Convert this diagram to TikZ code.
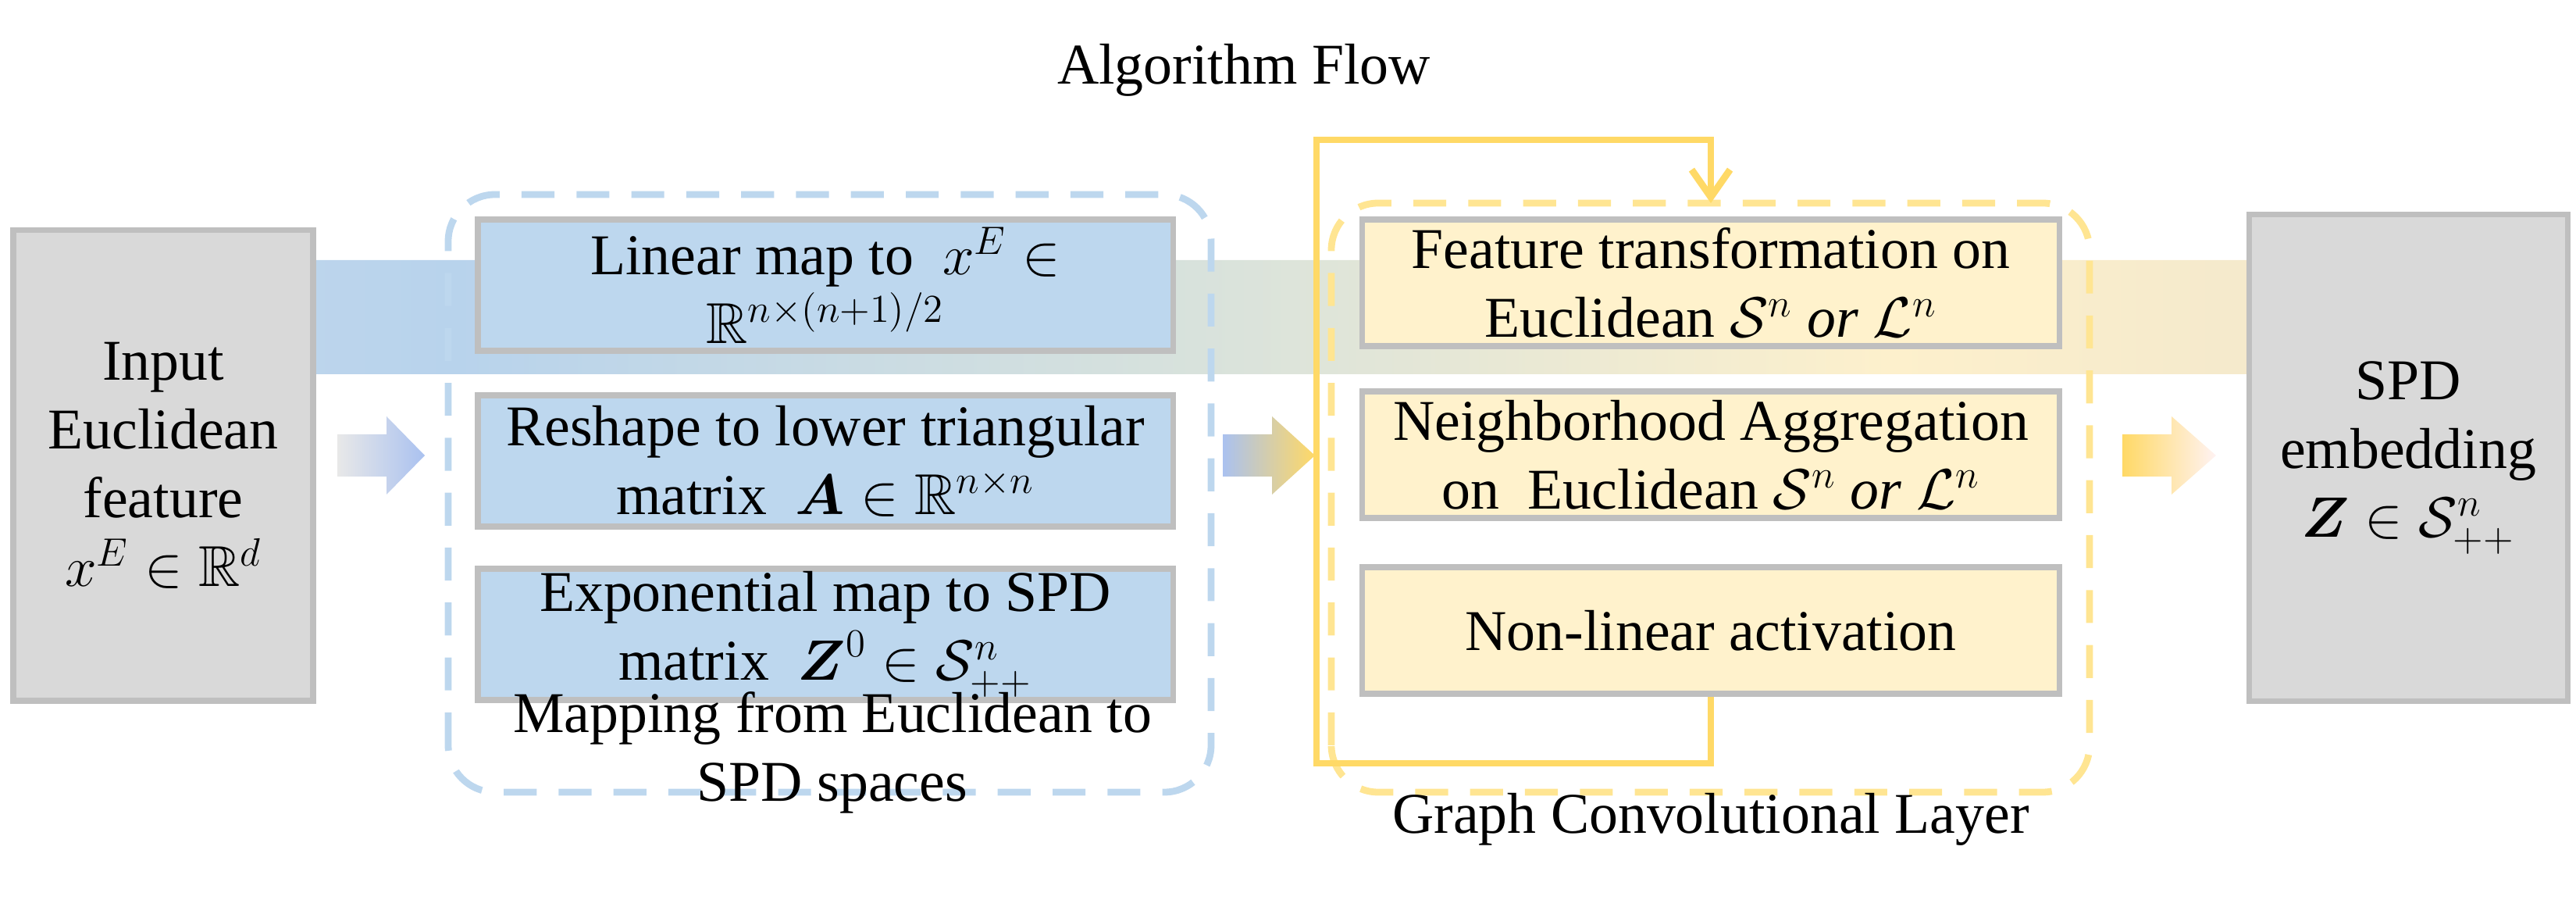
\documentclass[tikz,border=0pt]{standalone}
\usepackage{amsmath,amssymb}
\usepackage{fontspec}
\setmainfont{Liberation Serif}
\usetikzlibrary{arrows.meta}
\definecolor{boxblue}{HTML}{BDD7EE}
\definecolor{boxyellow}{HTML}{FFF2CC}
\definecolor{boxgray}{HTML}{D9D9D9}
\definecolor{edgegray}{HTML}{BFBFBF}
\definecolor{dashblue}{HTML}{BDD7EE}
\definecolor{dashyellow}{HTML}{FFE592}
\definecolor{loopyellow}{HTML}{FFD966}
\definecolor{flowa}{HTML}{E6E6E8}
\definecolor{flowb}{HTML}{B8D3EC}
\definecolor{flowc}{HTML}{D8E2DC}
\definecolor{flowd}{HTML}{FDF0CC}
\definecolor{flowe}{HTML}{D6D2CC}
\pgfdeclarehorizontalshading{flow}{100bp}{
  color(0bp)=(flowa); color(33bp)=(flowb); color(48bp)=(flowc);
  color(62bp)=(flowd); color(95bp)=(flowe); color(100bp)=(flowe)}
\tikzset{
  txt/.style={font=\fontsize{21}{25}\selectfont, align=center},
  stage/.style={txt, draw=edgegray, line width=2pt, inner sep=0pt},
  bluestage/.style={stage, fill=boxblue, minimum width=8.9cm, minimum height=1.68cm},
  yellowstage/.style={stage, fill=boxyellow, minimum width=8.93cm, minimum height=1.62cm},
  graybox/.style={stage, fill=boxgray},
  group/.style={dashed, dash pattern=on 12pt off 8pt, line width=2.5pt, rounded corners=0.6cm}
}
\begin{document}
\begin{tikzpicture}
\useasboundingbox (0,0) rectangle (32.99,11.52);
% algorithm flow arrow
\shade[shading=flow] (0.74,8.19) -- (30.88,8.19) -- (30.88,8.81) -- (32.45,7.46)
  -- (30.88,6.11) -- (30.88,6.73) -- (0.74,6.73) -- cycle;
\node[txt] (flow) at (15.93,10.62) {Algorithm Flow};

% input and output
\node[graybox, minimum width=3.84cm, minimum height=6.02cm] (input) at (2.09,5.56)
  {Input\\Euclidean\\feature\\$x^E\in\mathbb{R}^d$};
\node[graybox, minimum width=4.08cm, minimum height=6.23cm] (output) at (30.84,5.66)
  {SPD\\embedding\\$\boldsymbol{Z}\in\mathcal{S}^n_{++}$};

% mapping block
\draw[group, dashblue] (5.74,1.38) rectangle (15.51,9.03);
\node[bluestage] (linear) at (10.57,7.87) {Linear map to \ $x^E\in$\\$\mathbb{R}^{n\times(n+1)/2}$};
\node[bluestage] (reshape) at (10.57,5.62) {Reshape to lower triangular\\matrix \ $\boldsymbol{A}\in\mathbb{R}^{n\times n}$};
\node[bluestage] (expmap) at (10.57,3.40) {Exponential map to SPD\\matrix \ $\boldsymbol{Z}^0\in\mathcal{S}^n_{++}$};
\node[txt] (maplabel) at (10.66,1.89) {Mapping from Euclidean to\\SPD spaces};

% graph convolutional layer
\draw[group, dashyellow] (17.05,1.38) rectangle (26.76,8.92);
\node[yellowstage] (feat) at (21.91,7.90) {Feature transformation on\\Euclidean $\mathcal{S}^n$ \textit{or} $\mathcal{L}^n$};
\node[yellowstage] (aggr) at (21.91,5.70) {Neighborhood Aggregation\\on \ Euclidean $\mathcal{S}^n$ \textit{or} $\mathcal{L}^n$};
\node[yellowstage] (act) at (21.91,3.45) {Non-linear activation};
\node[txt] (gcllabel) at (21.91,1.03) {Graph Convolutional Layer};

% feedback loop
\coordinate (loopbl) at (16.86,1.75);
\coordinate (looptl) at (16.86,9.73);
\coordinate (loopin) at (21.91,8.92);
\draw[loopyellow, line width=2.5pt, -{Straight Barb[length=10pt,width=14pt]}]
  (act.south) |- (loopbl) -- (looptl) -| (loopin);

% small arrows between stages
\shade[left color=boxgray!60, right color=boxblue!90!blue] (4.32,5.42) -- (4.95,5.42) -- (4.95,5.19)
  -- (5.44,5.69) -- (4.95,6.19) -- (4.95,5.96) -- (4.32,5.96) -- cycle;
\shade[left color=boxblue!90!blue, right color=loopyellow] (15.66,5.42) -- (16.29,5.42) -- (16.29,5.19)
  -- (16.84,5.69) -- (16.29,6.19) -- (16.29,5.96) -- (15.66,5.96) -- cycle;
\shade[left color=loopyellow, right color=red!5] (27.18,5.42) -- (27.81,5.42) -- (27.81,5.19)
  -- (28.38,5.69) -- (27.81,6.19) -- (27.81,5.96) -- (27.18,5.96) -- cycle;
\end{tikzpicture}
\end{document}
